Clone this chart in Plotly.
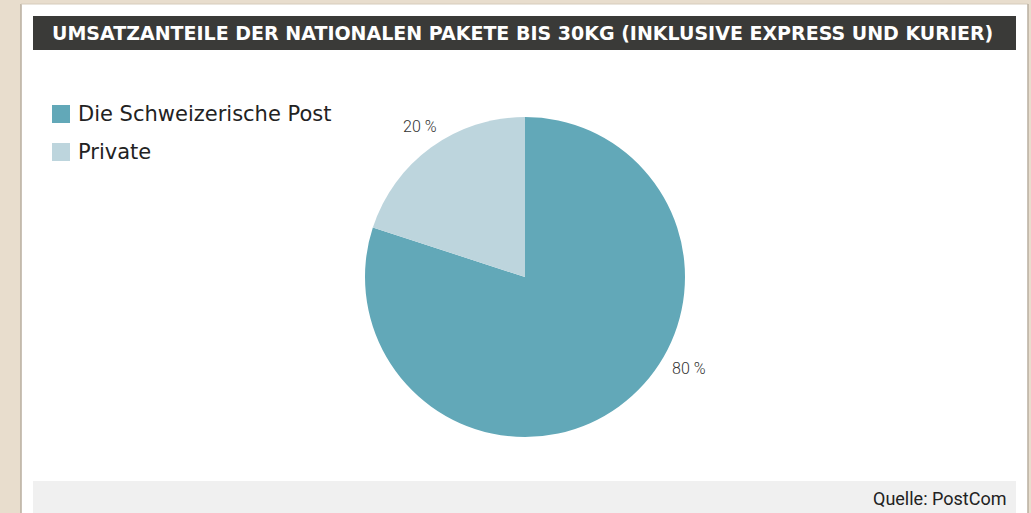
import plotly.graph_objects as go

W, H = 1031, 513

labels = ["Die Schweizerische Post", "Private"]
values = [80, 20]
colors = ["#62A8B8", "#BDD5DD"]
title_text = "UMSATZANTEILE DER NATIONALEN PAKETE BIS 30KG (INKLUSIVE EXPRESS UND KURIER)"
source_text = "Quelle: PostCom"


def px(x):
    return x / W


def py(y):
    return 1 - y / H


fig = go.Figure()
fig.add_trace(go.Pie(
    labels=labels,
    values=values,
    marker=dict(colors=colors, line=dict(width=0)),
    sort=False,
    direction="clockwise",
    rotation=0,
    textinfo="none",
    hoverinfo="label+percent",
    showlegend=False,
    domain=dict(x=[px(365), px(685)], y=[py(437), py(117)]),
))

shapes = [
    dict(type="rect", xref="paper", yref="paper", x0=px(21), x1=px(1028), y0=py(4), y1=py(520),
         fillcolor="white", line=dict(width=0), layer="below"),
    dict(type="line", xref="paper", yref="paper", x0=px(21), x1=px(21), y0=py(4), y1=py(520),
         line=dict(color="#B9AE9F", width=1.5), layer="below"),
    dict(type="line", xref="paper", yref="paper", x0=px(21), x1=px(1028), y0=py(4), y1=py(4),
         line=dict(color="#D6CBBB", width=1.2), layer="below"),
    dict(type="line", xref="paper", yref="paper", x0=px(1028), x1=px(1028), y0=py(4), y1=py(520),
         line=dict(color="#B9AE9F", width=1.5), layer="below"),
    dict(type="rect", xref="paper", yref="paper", x0=px(33), x1=px(1016), y0=py(16), y1=py(50),
         fillcolor="#3A3A38", line=dict(width=0), layer="below"),
    dict(type="rect", xref="paper", yref="paper", x0=px(33), x1=px(1016), y0=py(481), y1=py(520),
         fillcolor="#F0F0F0", line=dict(width=0), layer="below"),
]

annotations = [
    dict(text="<b>" + title_text + "</b>", x=px(50), y=py(33), xref="paper", yref="paper",
         xanchor="left", yanchor="middle", showarrow=False,
         font=dict(family="DejaVu Sans", size=19, color="white")),
    dict(text=source_text, x=px(1008), y=py(498), xref="paper", yref="paper",
         xanchor="right", yanchor="middle", showarrow=False,
         font=dict(family="Roboto", size=18, color="#222222")),
]

# manual legend
leg_y = [114, 152]
for lab, col, yy in zip(labels, colors, leg_y):
    shapes.append(dict(type="rect", xref="paper", yref="paper", x0=px(52), x1=px(70),
                       y0=py(yy - 9), y1=py(yy + 9), fillcolor=col, line=dict(width=0)))
    annotations.append(dict(text=lab, x=px(76), y=py(yy), xref="paper", yref="paper",
                            xanchor="left", yanchor="middle", showarrow=False,
                            font=dict(family="DejaVu Sans", size=21, color="#222222")))

# slice labels
label_pos = [(689, 368), (420, 126)]
for v, (lx, ly) in zip(values, label_pos):
    annotations.append(dict(text=f"{v} %", x=px(lx), y=py(ly), xref="paper", yref="paper",
                            xanchor="center", yanchor="middle", showarrow=False,
                            font=dict(family="Roboto", size=16, color="#333333", weight=300)))

fig.update_layout(
    width=W, height=H,
    margin=dict(l=0, r=0, t=0, b=0),
    paper_bgcolor="#E8DDCD",
    plot_bgcolor="#E8DDCD",
    shapes=shapes,
    annotations=annotations,
)

fig.write_html("out.html")
